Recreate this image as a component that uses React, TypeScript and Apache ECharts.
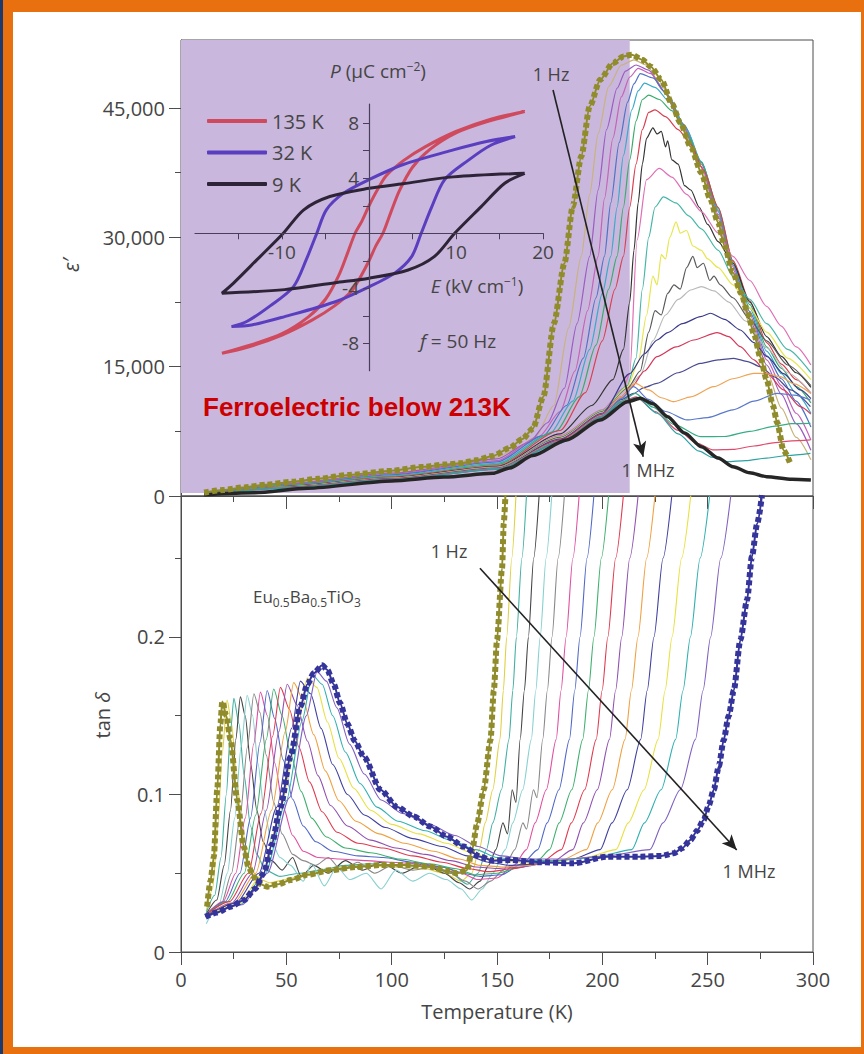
import React, { useEffect, useRef } from 'react';
import * as echarts from 'echarts';

// ---------------- Top panel: epsilon' vs T (T in K, eps') ----------------
const eps1Hz = [[11,400],[20,700],[30,1000],[40,1300],[53,1660],[65,2000],[80,2450],[100,2930],[115,3380],[125,3650],[133,3800],[140,4150],[148,4640],[156,5570],[162,6600],[167,7800],[172,11500],[177,20000],[182,27000],[186,33600],[190,39400],[194,45200],[199,48300],[205,50200],[210,51000],[214,51200],[219,50600],[223,49800],[228,48300],[233,45500],[237,43300],[242,40500],[247,37500],[251,34600],[255,31700],[258,29000],[262,25900],[266,23500],[269,21200],[272,18800],[275,16100],[278,13500],[281,10500],[283,8500],[286,5300],[289,3900]];
const epsJ1 = [[12,380],[50,1500],[100,2750],[150,4500],[160,5600],[168,6800],[177,10500],[184,19500],[190,27800],[194,35000],[198,42000],[203,47500],[209,50000],[215,50600],[221,50000],[228,47600],[237,43500],[247,37800],[255,32000],[262,26000],[270,20000],[278,14500],[285,10200],[292,6800],[299,4200]];
const epsJ2 = [[12,360],[50,1430],[100,2650],[150,4300],[165,6200],[174,8500],[182,12500],[188,20000],[194,27800],[198,35500],[202,42500],[207,47300],[211,49300],[216,50000],[222,49400],[229,47000],[238,43000],[247,38200],[255,32400],[262,26300],[270,20500],[278,15200],[285,11800],[292,8400],[299,5300]];
const epsJ3 = [[12,340],[50,1370],[100,2550],[150,4100],[170,6900],[180,9800],[187,14500],[193,21500],[198,27800],[201,34500],[205,41500],[209,46300],[213,48600],[217,49600],[223,49000],[230,46800],[238,43200],[247,38500],[255,32700],[262,26600],[270,21000],[278,15800],[285,12800],[292,9600],[299,6500]];
const epsJ4 = [[12,320],[50,1310],[100,2450],[150,3950],[172,7000],[183,10500],[191,16000],[197,23000],[201,27800],[204,34000],[208,41000],[212,45700],[215,47800],[218,49000],[224,48500],[231,46500],[239,43000],[247,38700],[255,33000],[262,26800],[270,21400],[278,16300],[285,13600],[292,11000],[299,8000]];
const epsJ5 = [[12,300],[50,1250],[100,2350],[150,3800],[175,7200],[186,11000],[194,17000],[200,23500],[204,27800],[207,33500],[210,39500],[214,44800],[217,47000],[220,47900],[225,47400],[232,45700],[240,42500],[247,38800],[255,33200],[262,27000],[270,21800],[278,16800],[285,14200],[292,11900],[299,9600]];
const epsJ6 = [[12,280],[50,1200],[100,2270],[150,3650],[178,7500],[189,11500],[197,17500],[203,24000],[207,27800],[210,33500],[213,39000],[216,43500],[219,46000],[222,46500],[227,46000],[233,44700],[240,42000],[247,38700],[255,33400],[262,27200],[270,22200],[278,17300],[285,14800],[292,12700],[299,10800]];
const epsJ7 = [[12,260],[50,1150],[100,2200],[150,3500],[180,7600],[192,12000],[200,18000],[206,24000],[210,27800],[213,33500],[216,38500],[219,42500],[222,44500],[225,44800],[230,44000],[236,42500],[242,40800],[248,37800],[255,33500],[262,27300],[270,22600],[278,17800],[285,15300],[292,13500],[299,11900]];
const epsJ8 = [[12,250],[50,1100],[100,2120],[150,3400],[180,7200],[195,10500],[205,13500],[210,17000],[213,22500],[215,28500],[217,34000],[219,38500],[221,41500],[224,42700],[226,42000],[228,42300],[230,40500],[231,41200],[233,39000],[236,38500],[239,36000],[242,35500],[246,33500],[250,31500],[255,29500],[262,27000],[270,22500],[278,18500],[285,16200],[292,14300],[299,12600]];
const epsPink = [[12,240],[50,1080],[100,2100],[150,3350],[180,7000],[200,10000],[210,12500],[213,14200],[216.5,29700],[221,36700],[227,38000],[233,37000],[240,35000],[247,33000],[255,30500],[262,27800],[270,25000],[278,22000],[285,19700],[292,17300],[299,15200]];
const epsTeal = [[12,235],[50,1060],[100,2080],[150,3320],[180,6900],[200,9900],[212,12800],[216,16000],[219,24000],[222,30000],[225,33500],[229,34700],[235,34000],[241,32500],[247,31000],[255,28500],[262,25500],[270,22800],[278,20000],[288,17000],[299,14300]];
const epsYellow = [[12,230],[50,1040],[100,2060],[150,3300],[180,6850],[200,9850],[212,12700],[217,15500],[221,21000],[224,25500],[226,24500],[228,28000],[230,27500],[232,30000],[235,31800],[237,30500],[240,30800],[243,29000],[247,28500],[250,27500],[255,26500],[262,24500],[270,21800],[278,19000],[288,16000],[299,13500]];
const epsDarkGray = [[12,225],[50,1020],[100,2040],[150,3280],[180,6800],[200,9800],[212,12500],[218,14500],[222,19000],[225,21500],[228,21000],[231,23500],[234,24500],[237,24000],[240,26500],[243,27800],[245,26500],[248,27000],[251,25000],[253,25500],[256,24500],[262,23000],[270,20500],[278,18000],[288,15200],[299,12800]];
const epsLightGray = [[12,220],[50,1000],[100,2020],[150,3250],[180,6700],[200,9700],[212,12400],[218,14000],[224,18000],[230,21000],[236,22800],[242,23900],[247,24300],[253,23800],[260,22500],[268,20300],[278,17200],[288,14300],[299,12000]];
const epsNavy = [[12,210],[50,990],[100,2000],[150,3220],[180,6600],[200,9600],[213,14200],[220,16500],[226,18100],[231,18950],[238,20000],[246.6,20800],[251.3,21200],[258,20500],[265.5,19260],[272,17800],[278.2,16160],[286,14200],[294,12300],[299,11300]];
const epsRed = [[12,205],[50,980],[100,1980],[150,3200],[180,6500],[200,9500],[209,11500],[214,12680],[220,14500],[225.9,16160],[235,17300],[243.4,18100],[254.5,18950],[260,18500],[265.5,17320],[272,15800],[278.2,14230],[286,12300],[294,10360],[299,9500]];
const epsNavy2 = [[12,200],[50,970],[100,1960],[150,3180],[180,6400],[200,9400],[209,11200],[214.9,11910],[220,12600],[225.9,13070],[236,14300],[246.6,15390],[255,15800],[262.4,15970],[269,15600],[275,15000],[282,13800],[289.3,12300],[298.8,10360]];
const epsOrange = [[12,195],[50,960],[100,1940],[150,3160],[180,6350],[200,9350],[209,11500],[215.7,13070],[222,12300],[228,11400],[233.9,10940],[242,11500],[252.9,12680],[262,13600],[271.9,14230],[278,14200],[284.5,13840],[291,13000],[298.8,11910]];
const epsBlue = [[12,190],[50,950],[100,1920],[150,3140],[180,6300],[200,9300],[209,11300],[214.9,12680],[222,11200],[230,9800],[240.2,8820],[250,9100],[262,10000],[272,11000],[282.9,11910],[291,11700],[298.8,11140]];
const epsGreen = [[12,185],[50,940],[100,1900],[150,3120],[180,6250],[200,9200],[209,11000],[215.7,11910],[224,10300],[234,8300],[246.6,6880],[258,6900],[270,7500],[282,8100],[290,8400],[298.8,8430]];
const epsRed2 = [[12,180],[50,930],[100,1880],[150,3100],[180,6200],[200,9150],[209,10900],[216,11500],[225,9800],[236,7600],[245,6100],[252.9,5340],[262,5400],[272,5800],[282,6200],[290,6400],[298.8,6500]];
const epsTeal2 = [[12,175],[50,920],[100,1860],[150,3080],[180,6150],[200,9100],[209,10850],[216.5,11400],[226,9600],[236,7200],[246,5200],[252,4500],[259.2,3980],[268,4100],[278,4400],[288,4700],[298.8,4950]];
const eps1MHz = [[11,150],[35,380],[60,900],[100,1740],[125,2200],[148,2630],[156,3250],[167,4700],[183,6500],[199,8820],[212,10940],[218,11330],[224,10700],[231,9200],[239,7300],[247,5720],[255,4400],[262,3400],[270,2700],[278,2240],[290,1950],[299,1860]];

// ---------------- Bottom panel: tan delta vs T ----------------
const tan1Hz = [[12.4,0.0288],[14,0.045],[15.6,0.0605],[17.2,0.103],[18.7,0.145],[19.6,0.159],[21.5,0.15],[23.5,0.135],[26.7,0.0965],[29.8,0.0669],[32,0.054],[34.6,0.0478],[37,0.0435],[40.9,0.0415],[46,0.043],[52,0.0457],[60,0.049],[71,0.052],[83,0.054],[94.7,0.0552],[106,0.0553],[118.4,0.0542],[126,0.0515],[131,0.05],[135.8,0.052],[138.2,0.0648],[140.6,0.0817],[143.7,0.103],[146.9,0.1346],[148.5,0.166],[150,0.198],[152.4,0.2436],[153.2,0.272],[154,0.29]];
const tanB1 = [[12,0.026],[15,0.04],[17.5,0.08],[19.5,0.125],[21.9,0.16],[24,0.145],[26.5,0.11],[29,0.078],[32,0.058],[36,0.047],[42,0.044],[50,0.046],[60,0.05],[70,0.053],[85,0.055],[100,0.054],[115,0.053],[125,0.05],[133,0.045],[138,0.05],[141.6,0.065],[144.4,0.082],[148,0.103],[151.4,0.135],[153,0.166],[154.6,0.2],[157,0.25],[159,0.29]];
const tanB2 = [[12,0.025],[16,0.036],[19,0.06],[21.5,0.1],[23.5,0.14],[25.1,0.161],[27.5,0.145],[30,0.112],[33,0.08],[36,0.062],[40,0.052],[47,0.048],[56,0.05],[66,0.052],[78,0.055],[90,0.056],[104,0.055],[118,0.054],[128,0.05],[136,0.043],[141,0.05],[145,0.065],[148,0.082],[152.1,0.103],[155.7,0.135],[157.5,0.166],[159.2,0.2],[161.8,0.25],[164,0.29]];
const tanB3 = [[12,0.024],[17,0.033],[20.5,0.055],[23.5,0.09],[26,0.135],[28.2,0.162],[30.5,0.15],[33,0.12],[36,0.09],[39,0.07],[43,0.058],[48,0.052],[53,0.06],[57,0.048],[63,0.055],[70,0.05],[78,0.058],[86,0.052],[95,0.057],[105,0.05],[115,0.056],[125,0.05],[132,0.044],[137,0.04],[142,0.045],[146,0.055],[149.5,0.065],[152.8,0.082],[155,0.075],[157.2,0.103],[159,0.095],[161,0.135],[163,0.166],[164.9,0.2],[167.4,0.25],[170,0.29]];
const tanB4 = [[12,0.018],[18,0.03],[22,0.05],[25.5,0.085],[28.5,0.13],[31.4,0.163],[34,0.15],[36.5,0.12],[39.5,0.09],[43,0.07],[47,0.06],[52,0.055],[58,0.045],[62,0.056],[68,0.042],[74,0.054],[80,0.046],[88,0.05],[95,0.04],[102,0.052],[110,0.045],[118,0.05],[126,0.046],[133,0.04],[138,0.033],[143,0.04],[148,0.05],[154,0.065],[157.5,0.082],[162.2,0.103],[166.3,0.135],[168.4,0.166],[170.5,0.2],[173.3,0.25],[176,0.29]];
const tanB5 = [[12,0.022],[19,0.03],[24,0.05],[28,0.085],[31.5,0.13],[34.6,0.164],[37.5,0.152],[40.5,0.125],[44,0.095],[48,0.075],[53,0.062],[58,0.058],[64,0.055],[70,0.06],[76,0.052],[84,0.057],[92,0.05],[100,0.055],[110,0.052],[120,0.054],[128,0.05],[135,0.045],[141,0.04],[147,0.045],[153,0.052],[158.5,0.065],[162.3,0.082],[164,0.078],[167.3,0.103],[169,0.098],[171.7,0.135],[173.9,0.166],[176.1,0.2],[179,0.25],[182,0.29]];
const tanB6 = [[12,0.024],[20,0.032],[26,0.05],[30.5,0.085],[34.5,0.132],[37.7,0.165],[41,0.15],[44.5,0.12],[48.5,0.092],[53,0.074],[58,0.064],[65,0.06],[75,0.059],[88,0.058],[100,0.057],[112,0.056],[124,0.054],[133,0.05],[141,0.046],[150,0.047],[158,0.055],[164,0.065],[168.1,0.082],[173.4,0.103],[178.1,0.135],[180.4,0.166],[182.8,0.2],[186,0.25],[189,0.29]];
const tanB7 = [[12,0.024],[21,0.032],[28,0.05],[33,0.085],[37.5,0.133],[40.9,0.166],[44.5,0.148],[48.5,0.122],[53,0.097],[58,0.08],[64,0.07],[72,0.064],[84,0.061],[96,0.06],[110,0.057],[124,0.054],[134,0.05],[142,0.048],[152,0.049],[162,0.056],[169.4,0.065],[173.8,0.082],[179.4,0.103],[184.4,0.135],[186.9,0.166],[189.4,0.2],[192.7,0.25],[196,0.29]];
const tanB8 = [[12,0.024],[22,0.032],[30,0.05],[35.5,0.087],[40.5,0.135],[44,0.167],[48,0.15],[52,0.126],[57,0.102],[62,0.085],[69,0.073],[78,0.066],[90,0.063],[104,0.059],[118,0.056],[130,0.053],[140,0.049],[150,0.05],[162,0.054],[170,0.059],[175,0.065],[179.5,0.082],[185.5,0.103],[190.7,0.135],[193.4,0.166],[196,0.2],[199.5,0.25],[203,0.29]];
const tanB9 = [[12,0.024],[23,0.032],[32,0.05],[38,0.088],[43.5,0.137],[47.2,0.168],[51.5,0.154],[56,0.13],[61,0.108],[67,0.089],[74,0.076],[84,0.069],[96,0.066],[110,0.061],[124,0.057],[136,0.053],[146,0.051],[158,0.053],[170,0.056],[180.6,0.065],[185.3,0.082],[191.6,0.103],[197.1,0.135],[199.9,0.166],[202.6,0.2],[206.3,0.25],[210,0.29]];
const tanB10 = [[12,0.023],[24,0.031],[34,0.05],[40.5,0.09],[46.5,0.14],[50.4,0.17],[55,0.157],[60,0.134],[65,0.112],[71,0.093],[79,0.08],[90,0.071],[102,0.066],[116,0.062],[128,0.058],[140,0.054],[150,0.053],[162,0.054],[176,0.057],[186,0.065],[191,0.082],[197.6,0.103],[203.4,0.135],[206.3,0.166],[209.2,0.2],[213,0.25],[217,0.29]];
const tanB11 = [[12,0.023],[25,0.031],[35.5,0.05],[43,0.09],[49.5,0.14],[53.5,0.171],[58,0.16],[63,0.138],[68.5,0.115],[75,0.096],[83,0.083],[94,0.075],[106,0.069],[120,0.064],[132,0.059],[142,0.055],[152,0.054],[165,0.055],[180,0.058],[192.5,0.065],[197.8,0.082],[204.7,0.103],[210.8,0.135],[213.8,0.166],[216.9,0.2],[221,0.25],[225,0.29]];
const tanB12 = [[12,0.023],[26,0.031],[37,0.05],[45.5,0.092],[52.5,0.142],[56.7,0.172],[61.5,0.164],[66.5,0.142],[72,0.119],[79,0.1],[87,0.087],[97,0.079],[110,0.072],[124,0.067],[136,0.061],[146,0.057],[156,0.055],[170,0.056],[186,0.059],[199,0.065],[204.6,0.082],[211.8,0.103],[218.2,0.135],[221.3,0.166],[224.5,0.2],[228.8,0.25],[233,0.29]];
const tanB13 = [[12,0.023],[27,0.03],[39,0.05],[48,0.094],[55.5,0.145],[59.9,0.174],[64.5,0.168],[69.5,0.146],[75,0.123],[82,0.104],[90,0.09],[100,0.081],[113,0.075],[126,0.069],[138,0.063],[148,0.059],[160,0.057],[175,0.057],[192,0.06],[206.5,0.065],[212.3,0.082],[219.8,0.103],[226.5,0.135],[229.8,0.166],[233.1,0.2],[237.6,0.25],[242,0.29]];
const tanB14 = [[12,0.022],[28,0.03],[40,0.05],[50,0.096],[57.5,0.147],[62.3,0.176],[67,0.17],[72,0.15],[78,0.127],[85,0.107],[93,0.092],[103,0.083],[116,0.077],[128,0.071],[140,0.065],[150,0.06],[162,0.058],[178,0.058],[196,0.06],[214,0.065],[220,0.082],[227.9,0.103],[234.8,0.135],[238.3,0.166],[241.8,0.2],[246.4,0.25],[251,0.29]];
const tanB15 = [[12,0.022],[29,0.03],[41,0.05],[51.5,0.098],[59.5,0.15],[64.6,0.178],[69,0.172],[74,0.155],[80,0.132],[87,0.113],[95,0.0965],[105,0.088],[118,0.081],[130,0.074],[141,0.067],[152,0.061],[165,0.059],[182,0.059],[202,0.061],[222.6,0.065],[228.8,0.082],[237,0.103],[244.2,0.135],[247.8,0.166],[251.4,0.2],[256.2,0.25],[261,0.29]];
const tan1MHz = [[11.6,0.0224],[17,0.025],[23.5,0.0288],[30,0.033],[35,0.04],[39.3,0.05],[43,0.068],[47.2,0.092],[52,0.124],[56.7,0.156],[60,0.17],[63,0.177],[67,0.182],[69.5,0.179],[72.5,0.17],[75.5,0.158],[78.9,0.145],[82.5,0.134],[86.8,0.124],[94.7,0.103],[102.6,0.092],[110.5,0.086],[118.4,0.0796],[126.3,0.0732],[134.2,0.0669],[142.1,0.0605],[148,0.058],[156.4,0.0584],[170,0.057],[186.4,0.0563],[202.3,0.0605],[218,0.0605],[228,0.061],[233.9,0.0627],[238,0.066],[241.8,0.0711],[245,0.077],[248.1,0.0838],[250.5,0.093],[252.9,0.103],[255.3,0.118],[257.6,0.1346],[260,0.15],[262.4,0.166],[265.5,0.198],[268.7,0.2235],[271,0.251],[273.5,0.272],[275.8,0.29]];

// ---------------- Inset: P-E hysteresis loops (E kV/cm, P uC/cm2) ----------------
const loop135K = [[17.9,8.85],[14,8.3],[10,7.4],[6.5,6.3],[4,5.3],[2,4.2],[1,3.2],[0,2.0],[-0.8,0.9],[-1.6,0],[-2.5,-1.5],[-3.5,-3.1],[-5,-4.8],[-7,-6.1],[-10,-7.3],[-13.5,-8.1],[-16.9,-8.73],[-14,-8.3],[-10,-7.4],[-6.5,-6.3],[-4,-5.3],[-2,-4.2],[-1,-3.2],[0,-2.0],[0.8,-0.9],[1.6,0],[2.5,1.5],[3.5,3.1],[5,4.8],[7,6.1],[10,7.3],[13.5,8.1],[17.9,8.85]];
const loop32K = [[16.8,7.03],[13.5,6.67],[9.7,6.06],[3.95,5.0],[0,3.9],[-2.95,2.9],[-4.9,1.7],[-6,0],[-7.2,-1.9],[-8.7,-3.9],[-11.4,-5.3],[-14,-6.4],[-15.8,-6.79],[-13.5,-6.67],[-9.7,-6.06],[-3.95,-5.0],[0,-3.9],[2.95,-2.9],[4.9,-1.7],[6,0],[7.2,1.9],[8.7,3.9],[11.4,5.3],[14,6.4],[16.8,7.03]];
const loop9K = [[17.9,4.36],[9.7,4.1],[3.9,3.6],[0,3.27],[-4.5,2.67],[-7.5,1.7],[-9.85,0],[-12.9,-1.94],[-15.6,-3.64],[-16.9,-4.36],[-9.7,-4.1],[-3.9,-3.6],[0,-3.27],[4.5,-2.67],[7.5,-1.7],[9.85,0],[12.9,1.94],[15.6,3.64],[17.9,4.36]];

// tick values / labels
const EPS_LABELS = [0, 15000, 30000, 45000];
const EPS_MINOR = [7500, 22500, 37500];
const TAN_LABELS = [0, 0.1, 0.2];
const TAN_MINOR = [0.05, 0.15, 0.25];
const T_TICKS = [0, 50, 100, 150, 200, 250, 300];
const E_TICKS = [-15, -10, -5, 0, 5, 10, 15, 20];
const E_LABELS = [-10, 10, 20];
const P_TICKS = [-8, -6, -4, -2, 0, 2, 4, 6, 8];
const P_LABELS = [-8, -4, 4, 8];
const T_CURIE = 213; // ferroelectric region boundary (K)
const EPS_MAX = 52900;
const TAN_MAX = 0.2895;

// arrows (data coordinates)
const topArrow = [[176.6, 47100], [219.4, 4560]];
const bottomArrow = [[141.9, 0.2436], [263.8, 0.0648]];

const topSeriesList: [string, number[][], string][] = [
  ['j1', epsJ1, '#c9b27c'], ['j2', epsJ2, '#9a5cc0'], ['j3', epsJ3, '#c462b8'],
  ['j4', epsJ4, '#4f72c6'], ['j5', epsJ5, '#37a9c9'], ['j6', epsJ6, '#3aab6c'],
  ['j7', epsJ7, '#d8404f'], ['j8', epsJ8, '#333333'], ['j9', epsPink, '#df6fb6'],
  ['j10', epsTeal, '#45b7a6'], ['j11', epsYellow, '#e6e64e'], ['j12', epsDarkGray, '#5a5a5a'],
  ['j13', epsLightGray, '#b9b9b9'], ['j14', epsNavy, '#3a3a8c'], ['j15', epsRed, '#d5385a'],
  ['j16', epsNavy2, '#4b4b92'], ['j17', epsOrange, '#efa353'], ['j18', epsBlue, '#5a78cc'],
  ['j19', epsGreen, '#36ad88'], ['j20', epsRed2, '#de4b6c'], ['j21', epsTeal2, '#2ca2a4'],
];
const bottomSeriesList: [string, number[][], string][] = [
  ['b1', tanB1, '#e0d040'], ['b2', tanB2, '#40b0a0'], ['b3', tanB3, '#444444'],
  ['b4', tanB4, '#88d0d0'], ['b5', tanB5, '#888888'], ['b6', tanB6, '#e050a0'],
  ['b7', tanB7, '#5068c8'], ['b8', tanB8, '#40b070'], ['b9', tanB9, '#e03a50'],
  ['b10', tanB10, '#9050b0'], ['b11', tanB11, '#f0a040'], ['b12', tanB12, '#4040a0'],
  ['b13', tanB13, '#e8e040'], ['b14', tanB14, '#30b0b0'], ['b15', tanB15, '#8060c0'],
];

const FONT = "'Open Sans', 'DejaVu Sans', sans-serif";
const TXT = '#454545';
const AX = '#4d4d4d';
const INSET_AX = '#4a3f5a';
const OLIVE = '#908c2c';
const NAVY_SQ = '#34349a';
const PURPLE = '#c9b7dd';

function line(name: string, data: number[][], color: string, width: number, xi: number, yi: number, extra: any = {}) {
  return {
    type: 'line', name, data, xAxisIndex: xi, yAxisIndex: yi,
    showSymbol: false, symbol: 'none', smooth: 0.25, smoothMonotone: 'x',
    lineStyle: { color, width }, itemStyle: { color }, silent: true, z: 3,
    ...extra,
  };
}

function textEl(x: number, y: number, style: any, extra: any = {}) {
  return {
    type: 'text', x, y, z: 100, silent: true,
    style: { fill: TXT, fontFamily: FONT, fontSize: 18, align: 'center', verticalAlign: 'middle', ...style },
    ...extra,
  };
}

export default function App() {
  const ref = useRef<HTMLDivElement>(null);
  useEffect(() => {
    if (!ref.current) return;
    const chart = echarts.init(ref.current, null, { renderer: 'svg' });
    const tickStyle = { color: AX, width: 1 };
    const labelStyle = { fontSize: 20, color: TXT, fontFamily: FONT };

    const series: any[] = [];
    // purple ferroelectric region
    series.push({
      type: 'line', name: 'bg', data: [[0, 0]], xAxisIndex: 0, yAxisIndex: 0, showSymbol: false,
      lineStyle: { opacity: 0 }, silent: true, z: 1, clip: false,
      markArea: {
        silent: true, itemStyle: { color: PURPLE },
        data: [[{ coord: [-1.5, 350] }, { coord: [T_CURIE, EPS_MAX] }]],
      },
    });
    topSeriesList.forEach(([n, d, c]) => series.push(line(n, d, c, 1.2, 0, 0)));
    series.push(line('eps1MHz', eps1MHz, '#262626', 3.5, 0, 0, {
      markLine: {
        silent: true, symbol: ['none', 'arrow'], symbolSize: [10, 15],
        lineStyle: { color: '#222', width: 1.6, type: 'solid' }, label: { show: false },
        data: [[{ coord: topArrow[0] }, { coord: topArrow[1] }]],
      },
    }));
    series.push(line('eps1Hz', eps1Hz, OLIVE, 2, 0, 0, { z: 4 }));
    series.push(line('eps1HzSq', eps1Hz, OLIVE, 6, 0, 0, { z: 4, lineStyle: { color: OLIVE, width: 6, type: [5, 3] } }));

    bottomSeriesList.forEach(([n, d, c]) => series.push(line(n, d, c, 1.1, 1, 2)));
    series.push(line('tan1Hz', tan1Hz, OLIVE, 2, 1, 2, { z: 4 }));
    series.push(line('tan1HzSq', tan1Hz, OLIVE, 6, 1, 2, { z: 4, lineStyle: { color: OLIVE, width: 6, type: [5, 3] } }));
    series.push(line('tan1MHz', tan1MHz, NAVY_SQ, 2, 1, 2, {
      z: 4,
      markLine: {
        silent: true, symbol: ['none', 'arrow'], symbolSize: [10, 15],
        lineStyle: { color: '#222', width: 1.6, type: 'solid' }, label: { show: false },
        data: [[{ coord: bottomArrow[0] }, { coord: bottomArrow[1] }]],
      },
    }));
    series.push(line('tan1MHzSq', tan1MHz, NAVY_SQ, 6, 1, 2, { z: 4, lineStyle: { color: NAVY_SQ, width: 6, type: [5, 3] } }));

    // inset loops
    const loopOpt = { smooth: 0.3, smoothMonotone: undefined, z: 6 };
    series.push(line('135 K', loop135K, '#cf4a5c', 3, 2, 4, loopOpt));
    series.push(line('32 K', loop32K, '#5a3ec0', 3, 2, 4, loopOpt));
    series.push(line('9 K', loop9K, '#2e2438', 3, 2, 4, loopOpt));

    const option: any = {
      animation: false,
      grid: [
        { left: 181, top: 40, width: 632, height: 456, show: true, borderColor: AX, borderWidth: 1, backgroundColor: 'transparent' },
        { left: 181, top: 496, width: 632, height: 456, show: true, borderColor: AX, borderWidth: 1, backgroundColor: 'transparent' },
        { left: 195, top: 104, width: 348, height: 266.75 },
      ],
      legend: {
        data: ['135 K', '32 K', '9 K'], orient: 'vertical', left: 202, top: 106,
        itemWidth: 60, itemHeight: 4, itemGap: 11.5, icon: 'roundRect', selectedMode: false,
        textStyle: { fontSize: 20, color: TXT, fontFamily: FONT, lineHeight: 20 },
      },
      xAxis: [
        {
          gridIndex: 0, type: 'value', min: 0, max: 300, interval: 50,
          axisLine: { show: true, lineStyle: tickStyle },
          axisTick: { show: true, length: 13, lineStyle: tickStyle },
          minorTick: { show: true, splitNumber: 2, length: 6, lineStyle: tickStyle },
          axisLabel: { show: false }, splitLine: { show: false }, minorSplitLine: { show: false },
        },
        {
          gridIndex: 1, type: 'value', min: 0, max: 300, interval: 50,
          axisLine: { show: true, lineStyle: tickStyle },
          axisTick: { show: true, length: 13, lineStyle: tickStyle },
          minorTick: { show: true, splitNumber: 2, length: 7, lineStyle: tickStyle },
          axisLabel: { ...labelStyle, margin: 17, customValues: T_TICKS }, splitLine: { show: false }, minorSplitLine: { show: false },
        },
        {
          gridIndex: 2, type: 'value', min: -20, max: 20, z: 10,
          position: 'bottom', offset: -137.5,
          axisLine: { show: true, onZero: false, lineStyle: { color: INSET_AX, width: 1.2 } },
          axisTick: { show: true, length: 6, lineStyle: { color: INSET_AX }, customValues: E_TICKS },
          axisLabel: { fontSize: 19, color: TXT, fontFamily: FONT, margin: 9, customValues: E_LABELS },
          splitLine: { show: false },
        },
      ],
      yAxis: [
        {
          gridIndex: 0, type: 'value', min: 0, max: EPS_MAX, position: 'left',
          axisLine: { show: true, lineStyle: tickStyle },
          axisTick: { show: true, length: 12, lineStyle: tickStyle, customValues: EPS_LABELS },
          axisLabel: { ...labelStyle, margin: 16, customValues: EPS_LABELS, formatter: (v: number) => v.toLocaleString('en-US') },
          splitLine: { show: false },
        },
        {
          gridIndex: 0, type: 'value', min: 0, max: EPS_MAX, position: 'left',
          axisLine: { show: false }, axisTick: { show: true, length: 6, lineStyle: tickStyle, customValues: EPS_MINOR },
          axisLabel: { show: false, customValues: EPS_MINOR }, splitLine: { show: false },
        },
        {
          gridIndex: 1, type: 'value', min: 0, max: TAN_MAX, position: 'left',
          axisLine: { show: true, lineStyle: tickStyle },
          axisTick: { show: true, length: 12, lineStyle: tickStyle, customValues: TAN_LABELS },
          axisLabel: { ...labelStyle, margin: 16, customValues: TAN_LABELS, formatter: (v: number) => (v === 0 ? '0' : String(+v.toFixed(1))) },
          splitLine: { show: false },
        },
        {
          gridIndex: 1, type: 'value', min: 0, max: TAN_MAX, position: 'left',
          axisLine: { show: false }, axisTick: { show: true, length: 6, lineStyle: tickStyle, customValues: TAN_MINOR },
          axisLabel: { show: false, customValues: TAN_MINOR }, splitLine: { show: false },
        },
        {
          gridIndex: 2, type: 'value', min: -10, max: 9.4, z: 10,
          position: 'left', offset: -174,
          axisLine: { show: true, onZero: false, lineStyle: { color: INSET_AX, width: 1.2 } },
          axisTick: { show: true, length: 6, lineStyle: { color: INSET_AX }, customValues: P_TICKS },
          axisLabel: { fontSize: 19, color: TXT, fontFamily: FONT, margin: 10, customValues: P_LABELS },
          splitLine: { show: false },
        },
      ],
      series,
      graphic: [
        textEl(71, 265, { text: 'ε′', fontSize: 21, fontStyle: 'italic' }, { rotation: Math.PI / 2 }),
        textEl(102, 715, {
          text: '{n|tan }{i|δ}', fontSize: 20,
          rich: { n: { fontSize: 20, fill: TXT, fontFamily: FONT }, i: { fontSize: 20, fill: TXT, fontFamily: FONT, fontStyle: 'italic' } },
        }, { rotation: Math.PI / 2 }),
        textEl(497, 1011, { text: 'Temperature (K)', fontSize: 20 }),
        textEl(203, 407, { text: 'Ferroelectric below 213K', fontSize: 26, fontWeight: 'bold', fontFamily: "'Liberation Sans', Arial, sans-serif", fill: '#cc0000', align: 'left' }),
        textEl(551, 74, { text: '1 Hz', fontSize: 18 }),
        textEl(648, 470, { text: '1 MHz', fontSize: 18 }),
        textEl(449, 551, { text: '1 Hz', fontSize: 18 }),
        textEl(749, 871, { text: '1 MHz', fontSize: 18 }),
        textEl(253, 596, {
          text: '{n|Eu}{s|0.5}{n|Ba}{s|0.5}{n|TiO}{s|3}', align: 'left',
          rich: {
            n: { fontSize: 17, fill: TXT, fontFamily: FONT, lineHeight: 24 },
            s: { fontSize: 12, fill: TXT, fontFamily: FONT, lineHeight: 12, verticalAlign: 'bottom' },
          },
        }),
        textEl(378, 71, {
          text: '{i|P} (μC cm{s|−2})',
          rich: {
            i: { fontSize: 19, fill: TXT, fontFamily: FONT, fontStyle: 'italic', lineHeight: 22 },
            s: { fontSize: 12, fill: TXT, fontFamily: FONT, lineHeight: 12, verticalAlign: 'top' },
          },
          fontSize: 19, lineHeight: 22,
        }),
        textEl(477, 286, {
          text: '{i|E} (kV cm{s|−1})',
          rich: {
            i: { fontSize: 19, fill: TXT, fontFamily: FONT, fontStyle: 'italic', lineHeight: 22 },
            s: { fontSize: 12, fill: TXT, fontFamily: FONT, lineHeight: 12, verticalAlign: 'top' },
          },
          fontSize: 19, lineHeight: 22,
        }),
        textEl(458, 341, {
          text: '{i|f} = 50 Hz',
          rich: { i: { fontSize: 19, fill: TXT, fontFamily: FONT, fontStyle: 'italic' } },
          fontSize: 19,
        }),
      ],
    };
    chart.setOption(option);
    return () => chart.dispose();
  }, []);

  return (
    <div style={{ position: 'fixed', left: 0, top: 0, width: 864, height: 1054, background: '#ffffff' }}>
      <div ref={ref} style={{ position: 'absolute', left: 0, top: 0, width: 864, height: 1054 }} />
      <div style={{ position: 'absolute', left: 0, top: 0, width: 864, height: 1054, boxSizing: 'border-box', borderLeft: '3px solid #1c3a6e', pointerEvents: 'none' }}>
        <div style={{ position: 'absolute', left: 0, top: 0, right: 0, bottom: 0, boxSizing: 'border-box', borderStyle: 'solid', borderColor: '#e8700e', borderWidth: '12px 3px 7px 10px' }} />
      </div>
    </div>
  );
}
